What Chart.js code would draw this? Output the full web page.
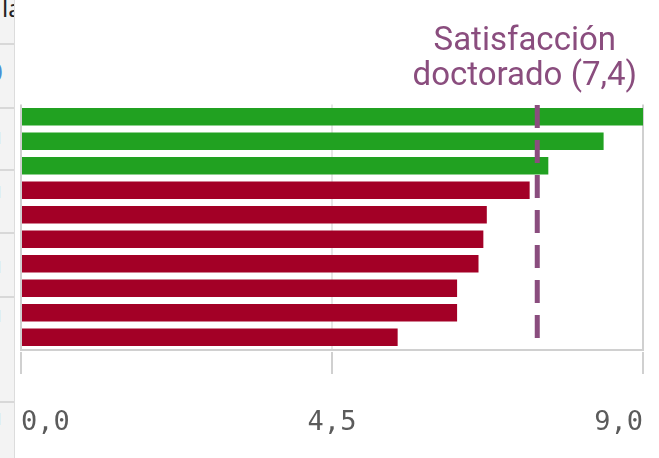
<!DOCTYPE html>
<html lang="es">
<head>
<meta charset="utf-8">
<title>Satisfacción doctorado</title>
<script src="https://cdn.jsdelivr.net/npm/chart.js@4.4.1/dist/chart.umd.min.js"></script>
<style>
  html, body { margin: 0; padding: 0; background: #fff; overflow: hidden; }
  #wrap { position: relative; width: 659px; height: 458px; }
  #chart { position: absolute; left: 0; top: 0; }
  #side { position: absolute; left: 0; top: 0; width: 14px; height: 458px; background: #f3f3f3;
          border-right: 1px solid #dcdcdc; overflow: hidden; font-family: 'Noto Sans', sans-serif; }
  .row { position: absolute; left: 0; width: 14px; height: 2px; background: #d8d8d8; }
  .frag { position: absolute; color: #4a8fd4; white-space: nowrap; line-height: 1; }
</style>
</head>
<body>
<div id="wrap">
  <canvas id="chart" width="659" height="458"></canvas>
  <div id="side">
    <span class="frag" style="left:2px;top:-4px;font-size:24px;color:#222">la</span>
    <div class="row" style="top:43px"></div>
    <span class="frag" style="left:-12px;top:58px;font-size:26px">0</span>
    <div class="row" style="top:107px"></div>
    <span class="frag" style="left:-6px;top:130px;font-size:16px">1</span>
    <div class="row" style="top:169px"></div>
    <span class="frag" style="left:-6px;top:184px;font-size:16px">1</span>
    <div class="row" style="top:232px"></div>
    <span class="frag" style="left:-6px;top:259px;font-size:16px">1</span>
    <div class="row" style="top:296px"></div>
    <span class="frag" style="left:-6px;top:308px;font-size:16px">1</span>
    <div class="row" style="top:401px"></div>
    <span class="frag" style="left:-6px;top:411px;font-size:16px">1</span>
  </div>
</div>
<script>
'use strict';

let canvasElem = document.getElementById('chart');

// data
const categories = ['Programa 1', 'Programa 2', 'Programa 3', 'Programa 4', 'Programa 5',
  'Programa 6', 'Programa 7', 'Programa 8', 'Programa 9', 'Programa 10'];
const satisfaction = [9.0, 8.43, 7.63, 7.36, 6.74, 6.69, 6.62, 6.31, 6.31, 5.45];
const xTicks = [0, 4.5, 9];
const refValue = 7.47;
const refLabel = ['Satisfacción', 'doctorado (7,4)'];

const green = '#21a121';
const red = '#a30026';
const purple = '#8a4d7e';

// dashed reference line + its label
const refLinePlugin = {
  id: 'refLine',
  afterDatasetsDraw(chart) {
    const { ctx, chartArea, scales } = chart;
    const x = scales.x.getPixelForValue(refValue);
    ctx.save();
    ctx.strokeStyle = purple;
    ctx.lineWidth = 5;
    ctx.setLineDash([23, 12]);
    ctx.beginPath();
    ctx.moveTo(x, chartArea.top + 0.5);
    ctx.lineTo(x, chartArea.bottom);
    ctx.stroke();
    ctx.setLineDash([]);
    ctx.font = '33px Roboto';
    ctx.fillStyle = purple;
    ctx.textAlign = 'center';
    ctx.textBaseline = 'alphabetic';
    let w = Math.max(...refLabel.map(t => ctx.measureText(t).width));
    let cx = Math.min(x, chartArea.right - 6 - w / 2);
    refLabel.forEach((t, i) => ctx.fillText(t, cx, chartArea.top - 55 + i * 35));
    ctx.restore();
  }
};

// tick marks sit a little below the plot, not touching it
const tickMarksPlugin = {
  id: 'tickMarks',
  afterDraw(chart) {
    const { ctx, chartArea } = chart;
    const s = chart.scales.x;
    ctx.save();
    ctx.strokeStyle = '#d0d0d0';
    ctx.lineWidth = 2;
    s.ticks.forEach((t, i) => {
      let px = s.getPixelForTick(i);
      ctx.beginPath();
      ctx.moveTo(px, chartArea.bottom + 2.5);
      ctx.lineTo(px, chartArea.bottom + 24.5);
      ctx.stroke();
    });
    ctx.restore();
  }
};

function renderChart() {
  let chartObj = {
    type: 'bar',
    data: {
      labels: categories,
      datasets: [{
        data: satisfaction,
        backgroundColor: satisfaction.map(v => v >= refValue ? green : red),
        borderWidth: 0,
        barPercentage: 0.714,
        categoryPercentage: 1
      }]
    },
    options: {
      indexAxis: 'y',
      responsive: false,
      animation: false,
      layout: { padding: { left: 21, right: 16, top: 104.5, bottom: 0 } },
      scales: {
        y: { display: false },
        x: {
          min: 0,
          max: 9,
          afterBuildTicks: (scale) => { scale.ticks = xTicks.map(v => ({ value: v })); },
          afterFit: (scale) => {
            scale.height = 108.5;
            scale.paddingLeft = 0;
            scale.paddingRight = 0;
          },
          grid: {
            drawTicks: false,
            lineWidth: 2,
            color: (c) => c.index === 1 ? '#e6e6e6' : '#d0d0d0'
          },
          border: { display: true, color: '#d0d0d0', width: 2 },
          ticks: {
            align: 'inner',
            padding: 57,
            color: '#5b5b5b',
            font: { family: 'DejaVu Sans Mono', size: 27, lineHeight: 1.2 },
            callback: (v) => Number(v).toFixed(1).replace('.', ',')
          }
        }
      },
      plugins: {
        legend: { display: false },
        tooltip: { enabled: false }
      }
    },
    plugins: [refLinePlugin, tickMarksPlugin]
  };

  new Chart(canvasElem, chartObj); //eslint-disable-line
}

renderChart();
</script>
</body>
</html>
